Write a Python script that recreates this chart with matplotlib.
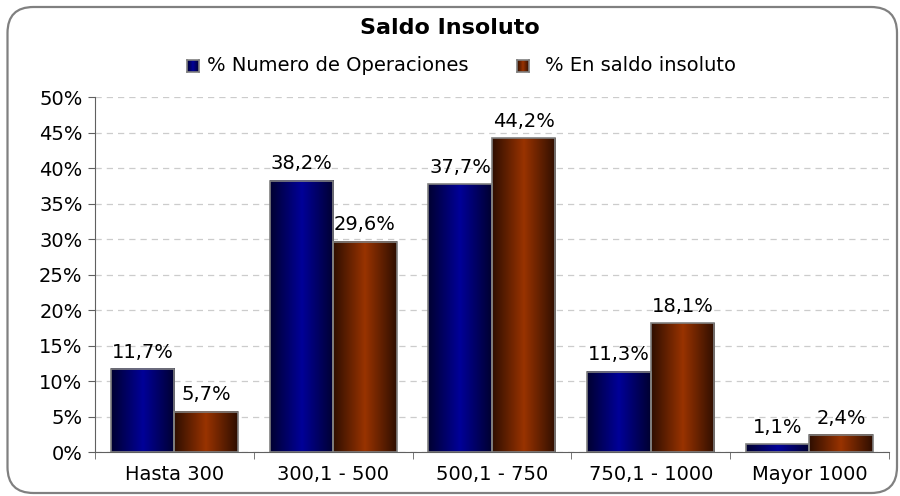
import numpy as np
import matplotlib
matplotlib.use("Agg")
import matplotlib.pyplot as plt
from matplotlib.colors import LinearSegmentedColormap
from matplotlib.patches import FancyBboxPatch

categories = ["Hasta 300", "300,1 - 500", "500,1 - 750", "750,1 - 1000", "Mayor 1000"]
operaciones = [11.7, 38.2, 37.7, 11.3, 1.1]
saldo = [5.7, 29.6, 44.2, 18.1, 2.4]
series_names = ["% Numero de Operaciones", "% En saldo insoluto"]

plt.rcParams['font.family'] = ['DejaVu Sans']

navy = LinearSegmentedColormap.from_list("navy", ["#000030", "#000098", "#000030"])
brown = LinearSegmentedColormap.from_list("brown", ["#2e0e00", "#993300", "#2e0e00"])
grad = np.linspace(0, 1, 256).reshape(1, -1)

fig = plt.figure(figsize=(9, 4.96), dpi=100)
# rounded outer border (in inches)
frame = FancyBboxPatch((0.075, 0.03), 8.895, 4.86, boxstyle="round,pad=0,rounding_size=0.26",
                       transform=fig.dpi_scale_trans, facecolor="white", edgecolor="#808080",
                       linewidth=1.6, zorder=-5)
fig.patches.append(frame)

ax = fig.add_axes([0.1056, 0.0887, 0.882, 0.7157])

w = 0.4
x = np.arange(len(categories))
for vals, cmap, off in [(operaciones, navy, -w / 2), (saldo, brown, w / 2)]:
    for xi, v in zip(x, vals):
        x0, x1 = xi + off - w / 2, xi + off + w / 2
        ax.imshow(grad, cmap=cmap, extent=(x0, x1, 0, v), aspect="auto", zorder=2)
        ax.bar(xi + off, v, width=w, facecolor="none", edgecolor="#808080", linewidth=1.2, zorder=3)
        ax.text(xi + off, v + 1.6, f"{v:.1f}%".replace(".", ","), ha="center", va="baseline",
                fontsize=14, color="#000000", zorder=4)

ax.set_xlim(-0.5, len(categories) - 0.5)
ax.set_ylim(0, 50)
ax.set_yticks(np.arange(0, 51, 5))
ax.set_yticklabels([f"{t}%" for t in range(0, 51, 5)], fontsize=14)
ax.set_xticks(x)
ax.set_xticklabels(categories, fontsize=14)
ax.set_xticks(np.arange(-0.5, len(categories), 1), minor=True)
ax.tick_params(axis="x", which="major", length=0, pad=9)
ax.tick_params(axis="x", which="minor", length=5, color="#606060")
ax.tick_params(axis="y", length=5, color="#606060", pad=4)
ax.yaxis.grid(True, linestyle=(0, (5, 4)), color="#cccccc", linewidth=0.9, zorder=0)
ax.set_axisbelow(True)
for s in ["top", "right"]:
    ax.spines[s].set_visible(False)
for s in ["left", "bottom"]:
    ax.spines[s].set_color("#606060")
ax.set_facecolor("none")

fig.text(0.5, 0.9435, "Saldo Insoluto", ha="center", va="center", fontsize=16, fontweight="bold")

# legend with gradient squares
sq_x = [0.2078, 0.5744]
txt_x = [0.23, 0.6056]
ly = 0.867
for sx, tx, name, cmap in zip(sq_x, txt_x, series_names, [navy, brown]):
    lax = fig.add_axes([sx, ly - 0.0121, 0.0133, 0.0242])
    lax.imshow(grad, cmap=cmap, aspect="auto")
    lax.set_xticks([])
    lax.set_yticks([])
    for sp in lax.spines.values():
        sp.set_color("#808080")
        sp.set_linewidth(1.2)
    fig.text(tx, ly, name, ha="left", va="center", fontsize=14)

fig.savefig("out.png", dpi=100)
